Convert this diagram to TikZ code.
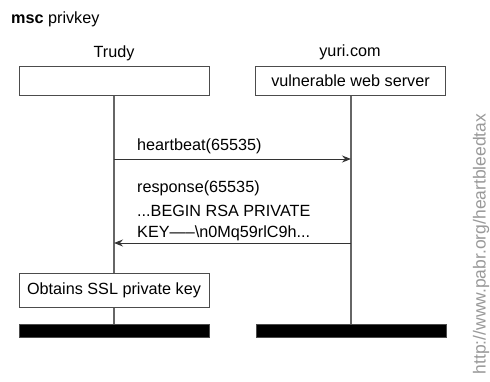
\documentclass[tikz,border=0pt]{standalone}
\usepackage{fontspec}
\setmainfont{Liberation Sans}
\usetikzlibrary{arrows.meta}
\tikzset{
  lbl/.style={font=\fontsize{16.2}{19}\selectfont, inner sep=0pt},
  instbox/.style={draw=black!70, line width=1pt, fill=white, minimum width=190pt, inner sep=0pt, font=\fontsize{16.2}{19}\selectfont},
  lifeline/.style={draw=black!60, line width=1.3pt},
  msg/.style={draw=black!80, line width=1pt, -{Stealth[length=9pt,width=7pt,inset=3pt]}},
  endbar/.style={fill=black, draw=black!70, line width=0.6pt},
}
\begin{document}
\begin{tikzpicture}[x=1pt,y=-1pt]
  \useasboundingbox (0,0) rectangle (490,381);

  % chart title
  \node[lbl, anchor=west] (title) at (11,19) {\textbf{msc} privkey};

  % instance heads
  \node[lbl] (trudyname) at (114,53) {Trudy};
  \node[instbox, minimum height=29pt] (trudy) at (114,80.5) {};
  \node[lbl] (yuriname) at (350,52) {yuri.com};
  \node[instbox, minimum height=29pt] (yuri) at (350.5,80.5) {vulnerable web server};

  % action box and instance ends
  \node[instbox, minimum height=34pt] (action) at (114,290) {Obtains SSL private key};
  \node[endbar, minimum width=190pt, minimum height=13pt, inner sep=0pt] (trudyend) at (114,330.5) {};
  \node[endbar, minimum width=190pt, minimum height=13pt, inner sep=0pt] (yuriend) at (351,330.5) {};

  % lifelines
  \draw[lifeline] (trudy.south) -- (action.north);
  \draw[lifeline] (action.south) -- (trudyend.north);
  \draw[lifeline] (yuri.south -| yuriend.north) -- (yuriend.north);

  % message end points on the lifelines
  \coordinate (hbA) at (trudy.south |- 0,159);
  \coordinate (hbB) at (yuriend.north |- 0,159);
  \coordinate (rsA) at (trudy.south |- 0,243);
  \coordinate (rsB) at (yuriend.north |- 0,243);

  % messages
  \draw[msg] (hbA) -- (hbB);
  \node[lbl, anchor=west] (hbtext) at (137,146) {heartbeat(65535)};
  \draw[msg] (rsB) -- (rsA);
  \node[lbl, anchor=west] (rstext1) at (137,188) {response(65535)};
  \node[lbl, anchor=west] (rstext2) at (137,211) {...BEGIN RSA PRIVATE};
  \node[lbl, anchor=west] (rstext3) at (137,233) {KEY—–\textbackslash n0Mq59rlC9h...};

  % source note
  \node[lbl, font=\fontsize{17.5}{20}\selectfont, text=black!40, rotate=90] (source) at (481,244) {http://www.pabr.org/heartbleedtax};
\end{tikzpicture}
\end{document}
